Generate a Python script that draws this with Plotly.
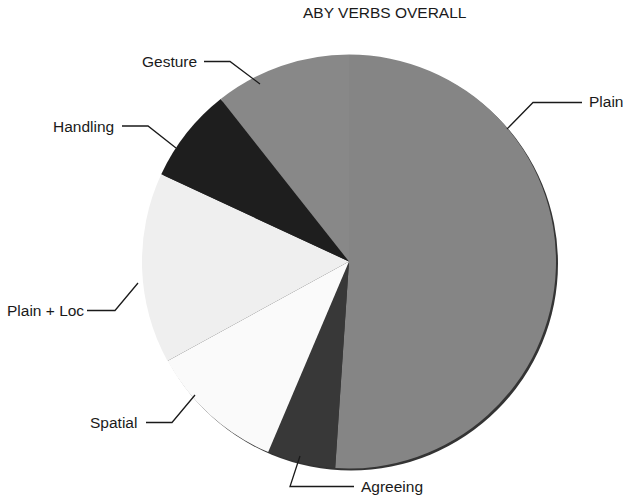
import plotly.graph_objects as go

W, H = 623, 497

# slices, clockwise from 12 o'clock
labels = ["Plain", "Agreeing", "Spatial", "Plain + Loc", "Handling", "Gesture"]
counts = [48, 5, 10, 14, 7, 10]
colors = ["#858585", "#383838", "#fafafa", "#efefef", "#1e1e1e", "#888888"]

# label anchors and leader lines, in pixels (text_x, text_y, anchor, line pts)
label_layout = {
    "Plain": (587, 101, "left", [(582, 102.5), (533, 102.5), (507, 129)]),
    "Gesture": (199, 61, "right", [(204, 61.5), (230, 61.5), (260, 84)]),
    "Handling": (116, 126, "right", [(122, 126), (148, 126), (176, 148)]),
    "Plain + Loc": (86, 310, "right", [(87, 310.5), (115, 310.5), (138, 283)]),
    "Spatial": (139, 422, "right", [(146, 422.5), (172, 422.5), (195, 395)]),
    "Agreeing": (359, 486, "left", [(354, 486.5), (290, 486.5), (300, 456)]),
}

CX, CY, R = 349, 261.5, 207


def px(x, y):
    return x / W, 1 - y / H


def domain(dx=0, dy=0):
    x0, y1 = px(CX - R + dx, CY - R + dy)
    x1, y0 = px(CX + R + dx, CY + R + dy)
    return dict(x=[x0, x1], y=[y0, y1])


fig = go.Figure()
# soft shadow under the pie
fig.add_trace(go.Pie(
    values=[1], labels=["shadow"], domain=domain(2, 2),
    marker=dict(colors=["#111111"]), textinfo="none",
    hoverinfo="skip", showlegend=False, sort=False, opacity=0.85,
))
fig.add_trace(go.Pie(
    values=counts, labels=labels, domain=domain(),
    marker=dict(colors=colors, line=dict(width=0)),
    textinfo="none", sort=False, direction="clockwise", rotation=0,
    showlegend=False,
))

font = dict(family="Liberation Sans, Arial, sans-serif", size=15.5, color="#1a1a1a")
for name, (tx, ty, anchor, pts) in label_layout.items():
    x, y = px(tx, ty)
    fig.add_annotation(
        x=x, y=y, xref="paper", yref="paper", text=name, showarrow=False,
        xanchor=anchor, yanchor="middle", font=font,
    )
    path = "M " + " L ".join(f"{px(a, b)[0]},{px(a, b)[1]}" for a, b in pts)
    fig.add_shape(type="path", path=path, xref="paper", yref="paper",
                  line=dict(color="#1a1a1a", width=1.3))

tx, ty = px(385, 13)
fig.add_annotation(
    x=tx, y=ty, xref="paper", yref="paper", text="ABY VERBS OVERALL",
    showarrow=False, xanchor="center", yanchor="middle", font=font,
)

fig.update_layout(
    width=W, height=H,
    margin=dict(l=0, r=0, t=0, b=0),
    paper_bgcolor="white", plot_bgcolor="white",
)
# drop the page's default body margin so the figure sits at the window corner
fig.write_html("out.html", config={"displayModeBar": False},
               post_script="document.body.style.margin='0';")
